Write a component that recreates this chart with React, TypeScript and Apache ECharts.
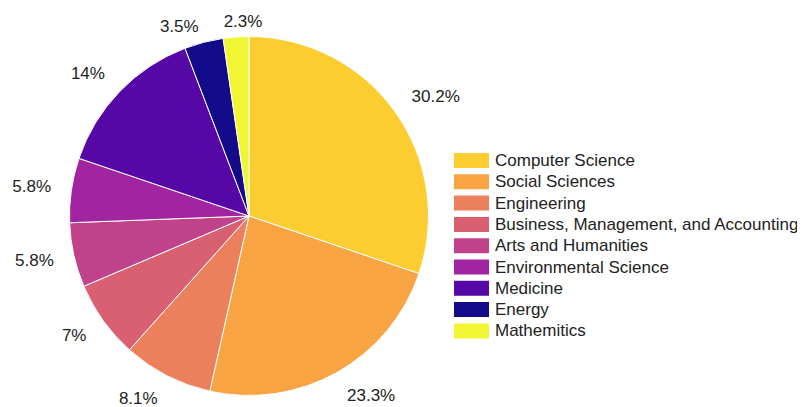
import React, { useEffect, useRef } from "react";
import * as echarts from "echarts";

const categories = [
  "Computer Science",
  "Social Sciences",
  "Engineering",
  "Business, Management, and Accounting",
  "Arts and Humanities",
  "Environmental Science",
  "Medicine",
  "Energy",
  "Mathemitics",
];
const values = [30.2, 23.3, 8.1, 7, 5.8, 5.8, 14, 3.5, 2.3];
const colors = [
  "#fccd31",
  "#f9a443",
  "#ec7f5c",
  "#d86071",
  "#bf428b",
  "#a124a1",
  "#5508a5",
  "#140b8b",
  "#f2f632",
];

const CX = 241;
const CY = 208;
const R = 179.5;
const FONT = 17;

export default function App() {
  const ref = useRef<HTMLDivElement>(null);
  useEffect(() => {
    if (!ref.current) return;
    const chart = echarts.init(ref.current, null, { renderer: "svg" });
    const total = values.reduce((a, b) => a + b, 0);
    const mids: number[] = [];
    let acc = 0;
    values.forEach((v) => {
      mids.push(((acc + v / 2) / total) * Math.PI * 2);
      acc += v;
    });
    const clamp = (v: number, lo: number, hi: number) => Math.max(lo, Math.min(hi, v));
    const placed: { x: number; y: number; w: number }[] = [];
    chart.setOption({
      animation: false,
      color: colors,
      legend: {
        orient: "vertical",
        left: 439,
        top: 138,
        itemWidth: 37,
        itemHeight: 17,
        itemGap: 2.3,
        icon: "rect",
        textStyle: { fontFamily: "Liberation Sans", fontSize: FONT, color: "#222" },
        data: categories,
      },
      series: [
        {
          type: "pie",
          center: [CX, CY],
          radius: R,
          startAngle: 90,
          clockwise: true,
          avoidLabelOverlap: false,
          itemStyle: { borderColor: "#fff", borderWidth: 1 },
          label: {
            show: true,
            position: "outside",
            formatter: (p: any) => `${p.value}%`,
            fontFamily: "Liberation Sans",
            fontSize: FONT,
            color: "#222",
          },
          labelLine: { show: false },
          labelLayout: (params: any) => {
            const i = params.dataIndex;
            const a = mids[i];
            const dx = Math.sin(a);
            const dy = -Math.cos(a);
            const w = params.labelRect.width;
            const h = FONT;
            const s0 = clamp((Math.abs(dy) - 0.9) / 0.06, 0, 1);
            const s = s0 * s0 * (3 - 2 * s0);
            const rx = R + 20.5;
            const ry = R + 17.5 - 10 * s;
            let x = dx * rx + Math.sign(dx) * (w / 2) * Math.min(1, Math.abs(dx) / 0.25);
            const y = dy * ry + Math.sign(dy) * (h / 2) * Math.abs(dy);
            // top-quadrant overlap: push the later label sideways away from its neighbour
            const prev = placed[i - 1];
            if (prev && dy < -0.9 && Math.abs(prev.y - y) < h) {
              const minX = prev.x + prev.w / 2 + 25 + w / 2;
              if (x < minX) x = minX;
            }
            placed[i] = { x, y, w };
            return {
              x: CX + x,
              y: CY + y,
              align: "center",
              verticalAlign: "middle",
            };
          },
          emphasis: { disabled: true },
          data: categories.map((c, i) => ({ name: c, value: values[i] })),
        },
      ],
    });
    return () => chart.dispose();
  }, []);
  return <div ref={ref} style={{ width: 797, height: 399 }} />;
}
